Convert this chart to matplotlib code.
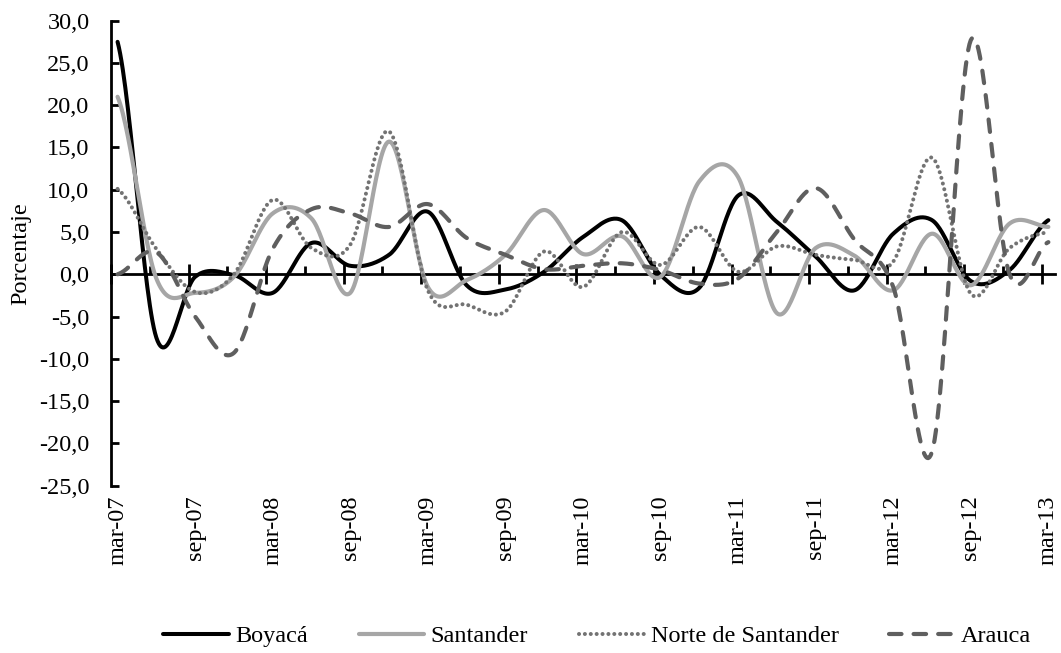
import numpy as np
import matplotlib
matplotlib.use("Agg")
import matplotlib.pyplot as plt
from matplotlib.lines import Line2D

plt.rcParams['font.family'] = ['Liberation Serif', 'DejaVu Serif']

# ---------------- data (quarterly, mar-07 .. mar-13) ----------------
quarters = list(range(25))
tick_labels = ['mar-07', 'sep-07', 'mar-08', 'sep-08', 'mar-09', 'sep-09', 'mar-10',
               'sep-10', 'mar-11', 'sep-11', 'mar-12', 'sep-12', 'mar-13']
boyaca = [27.5, -7.5, -0.3, -0.1, -2.2, 3.7, 1.0, 2.3, 7.4, -1.3, -1.8, 0.3, 4.4,
          6.4, -0.1, -1.6, 9.3, 6.2, 2.1, -1.9, 4.8, 6.4, -0.8, 0.5, 6.4]
santander = [21.0, -0.5, -2.2, -0.3, 7.2, 6.6, -2.2, 15.7, -1.5, -0.7, 2.3, 7.6, 2.4,
             4.5, -0.3, 11.0, 11.5, -4.6, 3.1, 2.2, -1.9, 4.8, -1.3, 6.0, 5.6]
norte = [10.1, 3.0, -2.1, 0.0, 8.8, 3.1, 3.5, 16.9, -1.9, -3.6, -4.4, 2.7, -1.5,
         5.0, 1.1, 5.6, 0.3, 3.3, 2.3, 1.7, 1.5, 13.8, -2.3, 3.1, 5.0]
arauca = [0.0, 2.6, -5.0, -9.3, 3.0, 7.7, 7.2, 5.6, 8.3, 4.3, 2.3, 0.6, 1.0,
          1.3, 0.5, -1.1, -0.5, 5.0, 10.2, 4.1, -1.5, -21.0, 27.7, 0.0, 3.8]
series_names = ['Boyacá', 'Santander', 'Norte de Santander', 'Arauca']


def smooth(x, y, n=30):
    """Excel-like smoothed line (Catmull-Rom / cubic Hermite through the points)."""
    x = np.asarray(x, float)
    y = np.asarray(y, float)
    N = len(y)
    m = np.empty(N)
    m[1:-1] = (y[2:] - y[:-2]) / 2.0
    m[0] = (y[1] - y[0]) / 2.0
    m[-1] = (y[-1] - y[-2]) / 2.0
    xs, ys = [], []
    for i in range(N - 1):
        t = np.linspace(0, 1, n, endpoint=(i == N - 2))
        h00 = 2 * t**3 - 3 * t**2 + 1
        h10 = t**3 - 2 * t**2 + t
        h01 = -2 * t**3 + 3 * t**2
        h11 = t**3 - t**2
        ys.append(h00 * y[i] + h10 * m[i] + h01 * y[i + 1] + h11 * m[i + 1])
        xs.append(x[i] + t * (x[i + 1] - x[i]))
    return np.concatenate(xs), np.concatenate(ys)


FS = 17.5
fig = plt.figure(figsize=(10.61, 6.53), dpi=100)
ax = fig.add_axes([0.1046, 0.2564, 0.8897, 0.7119])

styles = [
    dict(color='black', lw=2.9, ls='-', solid_capstyle='round'),
    dict(color='#A6A6A6', lw=3.0, ls='-', solid_capstyle='round'),
    dict(color='#737373', lw=2.9, ls=(0, (0.01, 1.45)), dash_capstyle='round'),
    dict(color='#5F5F5F', lw=3.0, ls=(0, (3.0, 2.9)), dash_capstyle='round'),
]
all_series = [boyaca, santander, norte, arauca]
handles = []
for name, vals, st in zip(series_names, all_series, styles):
    sx, sy = smooth(quarters, vals)
    ax.plot(sx, sy, zorder=3, **st)
    handles.append(Line2D([], [], **st, label=name))

ax.set_xlim(-0.17, 24.17)
ax.set_ylim(-25, 30)

# y axis
yt = np.arange(-25, 31, 5)
ax.set_yticks(yt)
ax.set_yticklabels([f"{v:.1f}".replace('.', ',') for v in yt], fontsize=FS)
ax.tick_params(axis='y', direction='in', length=6, width=2, pad=15.5)
for s in ['top', 'right', 'bottom']:
    ax.spines[s].set_visible(False)
ax.spines['left'].set_linewidth(2)
ax.set_ylabel('Porcentaje', fontsize=FS)
ax.yaxis.set_label_coords(-0.0847, 0.5)

# x tick labels at the bottom of the plot
ax.set_xticks(quarters[::2])
ax.set_xticklabels(tick_labels, rotation=90, fontsize=FS)
ax.tick_params(axis='x', length=0, pad=7)

# category axis line at y = 0 with its tick marks
sec = ax.secondary_xaxis(25 / 55)
sec.spines['bottom'].set_linewidth(2)
sec.set_xticks([q - 0.17 for q in quarters[::2]])
sec.set_xticks([q - 0.17 for q in quarters[1::2]], minor=True)
sec.tick_params(axis='x', which='major', direction='inout', length=15, width=2,
                labelbottom=False)
sec.tick_params(axis='x', which='minor', direction='in', length=6, width=2,
                labelbottom=False)

fig.legend(handles=handles, loc='center', bbox_to_anchor=(0.563, 0.026),
           ncol=4, frameon=False, fontsize=FS, handlelength=2.7,
           handletextpad=0.25, columnspacing=2.1, borderpad=0.2)

fig.savefig('out.png', dpi=100)
